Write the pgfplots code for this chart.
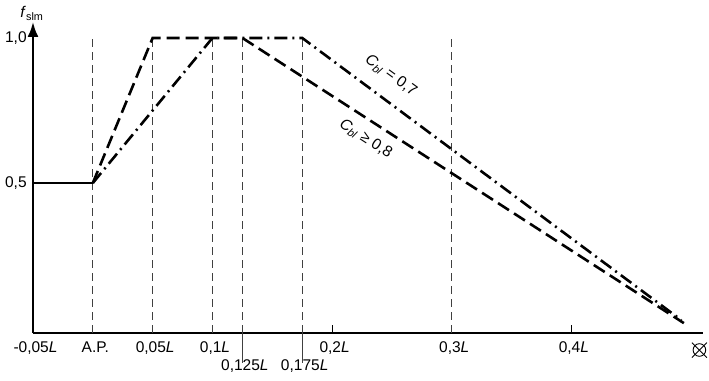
\documentclass[border=0pt]{standalone}
\usepackage{fontspec}
\setmainfont{Liberation Sans}
\usepackage{pgfplots}
\pgfplotsset{compat=1.18}
\usetikzlibrary{arrows.meta}
\begin{document}
\fontsize{15.5bp}{18bp}\selectfont
\begin{tikzpicture}
\begin{axis}[
  scale only axis, width=670bp, height=311bp,
  xmin=-0.05, xmax=0.51, ymin=-0.017, ymax=1.055,
  axis x line=bottom, axis y line=left,
  x axis line style={-, line width=2.2bp},
  y axis line style={-{Latex[length=15bp,width=11bp]}, line width=2.2bp},
  clip=false,
  font=\fontsize{15.5bp}{18bp}\selectfont,
  xtick={-0.05,0,0.05,0.1,0.2,0.3,0.4},
  xticklabels={{-0,05\textit{L}},{A.P.},{0,05\textit{L}},{0,1\textit{L}},{0,2\textit{L}},{0,3\textit{L}},{0,4\textit{L}}},
  extra x ticks={0.125,0.175},
  extra x tick labels={{0,125\textit{L}},{0,175\textit{L}}},
  extra x tick style={major tick length=0pt, tick label style={yshift=-18bp}},
  x tick style={black, line width=0.8bp},
  major tick length=8bp,
  tick align=inside,
  xtick pos=bottom,
  ytick={0.5,1},
  yticklabels={{0,5},{1,0}},
  y tick style={draw=none},
  x tick label style={yshift=-3bp, xshift=2.5bp},
  y tick label style={xshift=-1bp},
]
% reference lines
\addplot[line width=0.9bp, black!75, dash pattern=on 8bp off 5bp] coordinates {(0,-0.017)(0,1.0)};
\addplot[line width=0.9bp, black!75, dash pattern=on 8bp off 5bp] coordinates {(0.05,-0.017)(0.05,1.0)};
\addplot[line width=0.9bp, black!75, dash pattern=on 8bp off 5bp] coordinates {(0.1,-0.017)(0.1,1.0)};
\addplot[line width=0.9bp, black!75, dash pattern=on 8bp off 5bp] coordinates {(0.125,-0.017)(0.125,1.0)};
\addplot[line width=0.9bp, black!75, dash pattern=on 8bp off 5bp] coordinates {(0.175,-0.017)(0.175,1.0)};
\addplot[line width=0.9bp, black!75, dash pattern=on 8bp off 5bp] coordinates {(0.3,-0.017)(0.3,1.0)};
\addplot[line width=0.9bp, black!75] coordinates {(0.125,-0.017)(0.125,-0.121)};
\addplot[line width=0.9bp, black!75] coordinates {(0.175,-0.017)(0.175,-0.121)};
% curves
\addplot[line width=2.4bp, black] coordinates {(-0.05,0.5)(0,0.5)};
\addplot[line width=2.6bp, black, dash pattern=on 13bp off 6bp] coordinates {(0,0.5)(0.05,1.0)(0.125,1.0)(0.494,0.017)};
\addplot[line width=2.6bp, black, dash pattern=on 13bp off 5bp on 2bp off 5bp] coordinates {(0,0.5)(0.1,1.0)(0.175,1.0)(0.492,0.027)};
% labels
\node[rotate=-36, inner sep=0pt] at (axis cs:0.249,0.870) {\textit{C}\textsubscript{\textit{bl}} = 0,7};
\node[rotate=-33, inner sep=0pt] at (axis cs:0.228,0.652) {\textit{C}\textsubscript{\textit{bl}} ≥ 0,8};
\node[anchor=south, inner sep=1bp, xshift=-1bp] at (rel axis cs:0,1) {\textit{f}\textsubscript{slm}};
% forward perpendicular symbol
\draw[line width=0.9bp] ([yshift=-17bp]axis cs:0.507,-0.017) circle (6.3bp);
\draw[line width=0.9bp] ([shift={(-7.5bp,-7.5bp)}]axis cs:0.507,-0.076) -- ([shift={(7.5bp,7.5bp)}]axis cs:0.507,-0.076);
\draw[line width=0.9bp] ([shift={(-7.5bp,7.5bp)}]axis cs:0.507,-0.076) -- ([shift={(7.5bp,-7.5bp)}]axis cs:0.507,-0.076);
\end{axis}
\pgfresetboundingbox
\path[use as bounding box] ([shift={(-33bp,-48bp)}]current axis.south west) rectangle ([shift={(6bp,22bp)}]current axis.north east);
\end{tikzpicture}
\end{document}
